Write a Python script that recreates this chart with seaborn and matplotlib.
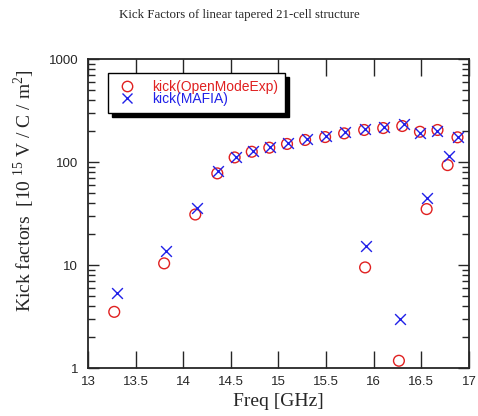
import matplotlib
matplotlib.use("Agg")
import matplotlib.pyplot as plt
import matplotlib.ticker as mticker
from matplotlib.lines import Line2D
import seaborn as sns
import pandas as pd

# kick factors, [10^15 V/C/m^2] vs frequency [GHz]
freq_exp = [13.276, 13.80, 14.127, 14.358, 14.54, 14.72, 14.904, 15.09, 15.28, 15.49, 15.69,
            15.90, 15.91, 16.10, 16.265, 16.30, 16.486, 16.556, 16.67, 16.776, 16.88]
kick_exp = [3.52, 10.4, 31, 77.7, 111, 126, 138, 150, 164, 175, 190,
            205, 9.5, 214, 1.18, 224, 197, 35, 205, 93.5, 174]

freq_mafia = [13.31, 13.82, 14.15, 14.37, 14.55, 14.73, 14.91, 15.10, 15.30, 15.50, 15.70,
              15.91, 15.92, 16.11, 16.275, 16.32, 16.49, 16.56, 16.67, 16.79, 16.89]
kick_mafia = [5.38, 13.8, 36, 82, 112, 129, 141, 153, 167, 179, 194,
              210, 15.3, 220, 2.97, 234, 192, 45, 201, 114, 176]

x_ticks = [13, 13.5, 14, 14.5, 15, 15.5, 16, 16.5, 17]
x_tick_labels = ["13", "13.5", "14", "14.5", "15", "15.5", "16", "16.5", "17"]
y_ticks = [1, 10, 100, 1000]
y_tick_labels = ["1", "10", "100", "1000"]

df_exp = pd.DataFrame({"freq": freq_exp, "kick": kick_exp})
df_mafia = pd.DataFrame({"freq": freq_mafia, "kick": kick_mafia})

sns.set_style("ticks")
plt.rcParams["font.family"] = ["Liberation Sans", "DejaVu Sans"]
plt.rcParams["xtick.direction"] = "in"
plt.rcParams["ytick.direction"] = "in"
plt.rcParams["mathtext.fontset"] = "custom"
plt.rcParams["mathtext.rm"] = "Liberation Serif"

fig = plt.figure(figsize=(4.78, 4.16), dpi=100)
ax = fig.add_axes([0.184, 0.115, 0.797, 0.743])

sns.scatterplot(data=df_exp, x="freq", y="kick", ax=ax, marker="o", s=60,
                facecolor="none", edgecolor="#e02020", linewidth=1.0, zorder=3)
sns.scatterplot(data=df_mafia, x="freq", y="kick", ax=ax, marker="x", s=60,
                color="#2020e8", linewidth=1.0, zorder=4)

ax.set_yscale("log")
ax.set_xlim(13, 17)
ax.set_ylim(1, 1000)

ax.set_xticks(x_ticks)
ax.set_xticklabels(x_tick_labels)
ax.xaxis.set_minor_locator(mticker.NullLocator())
ax.yaxis.set_major_locator(mticker.FixedLocator(y_ticks))
ax.yaxis.set_major_formatter(mticker.FixedFormatter(y_tick_labels))
ax.yaxis.set_minor_locator(mticker.LogLocator(base=10, subs=range(2, 10)))
ax.yaxis.set_minor_formatter(mticker.NullFormatter())

ax.tick_params(axis="x", which="major", length=12, width=1.0, top=True, labelsize=9.5, pad=6)
ax.tick_params(axis="y", which="major", length=8, width=1.0, right=True, labelsize=9.5, pad=7)
ax.tick_params(axis="y", which="minor", length=5, width=1.0, right=True)
for sp in ax.spines.values():
    sp.set_linewidth(1.3)
    sp.set_visible(True)

ax.set_xlabel("Freq [GHz]", family="Liberation Serif", fontsize=14, labelpad=3)
ax.set_ylabel(r"Kick factors  [10 $^{15}$ V / C / m$^{2}$]", family="Liberation Serif",
              fontsize=14)
ax.yaxis.set_label_coords(-0.134, 0.576)

fig.text(0.5, 0.965, "Kick Factors of linear tapered 21-cell structure",
         ha="center", va="center", family="Liberation Serif", fontsize=9.3)

handles = [
    Line2D([], [], linestyle="", marker="o", markersize=7.5, markerfacecolor="none",
           markeredgecolor="#e02020", markeredgewidth=1.0),
    Line2D([], [], linestyle="", marker="x", markersize=7.5, color="#2020e8",
           markeredgewidth=1.0),
]
leg = ax.legend(handles, ["kick(OpenModeExp)", "kick(MAFIA)"], loc="upper left",
                bbox_to_anchor=(0.052, 0.955), borderaxespad=0, frameon=True, fancybox=False,
                shadow={"color": "black", "alpha": 1.0, "ox": 3, "oy": -3},
                edgecolor="black", framealpha=1, fontsize=10, labelspacing=-0.15,
                handletextpad=0.9, borderpad=0.5, handlelength=1.8,
                labelcolor=["#e02020", "#2020e8"])
leg.get_frame().set_linewidth(1.0)

fig.savefig("out.png", dpi=100)
